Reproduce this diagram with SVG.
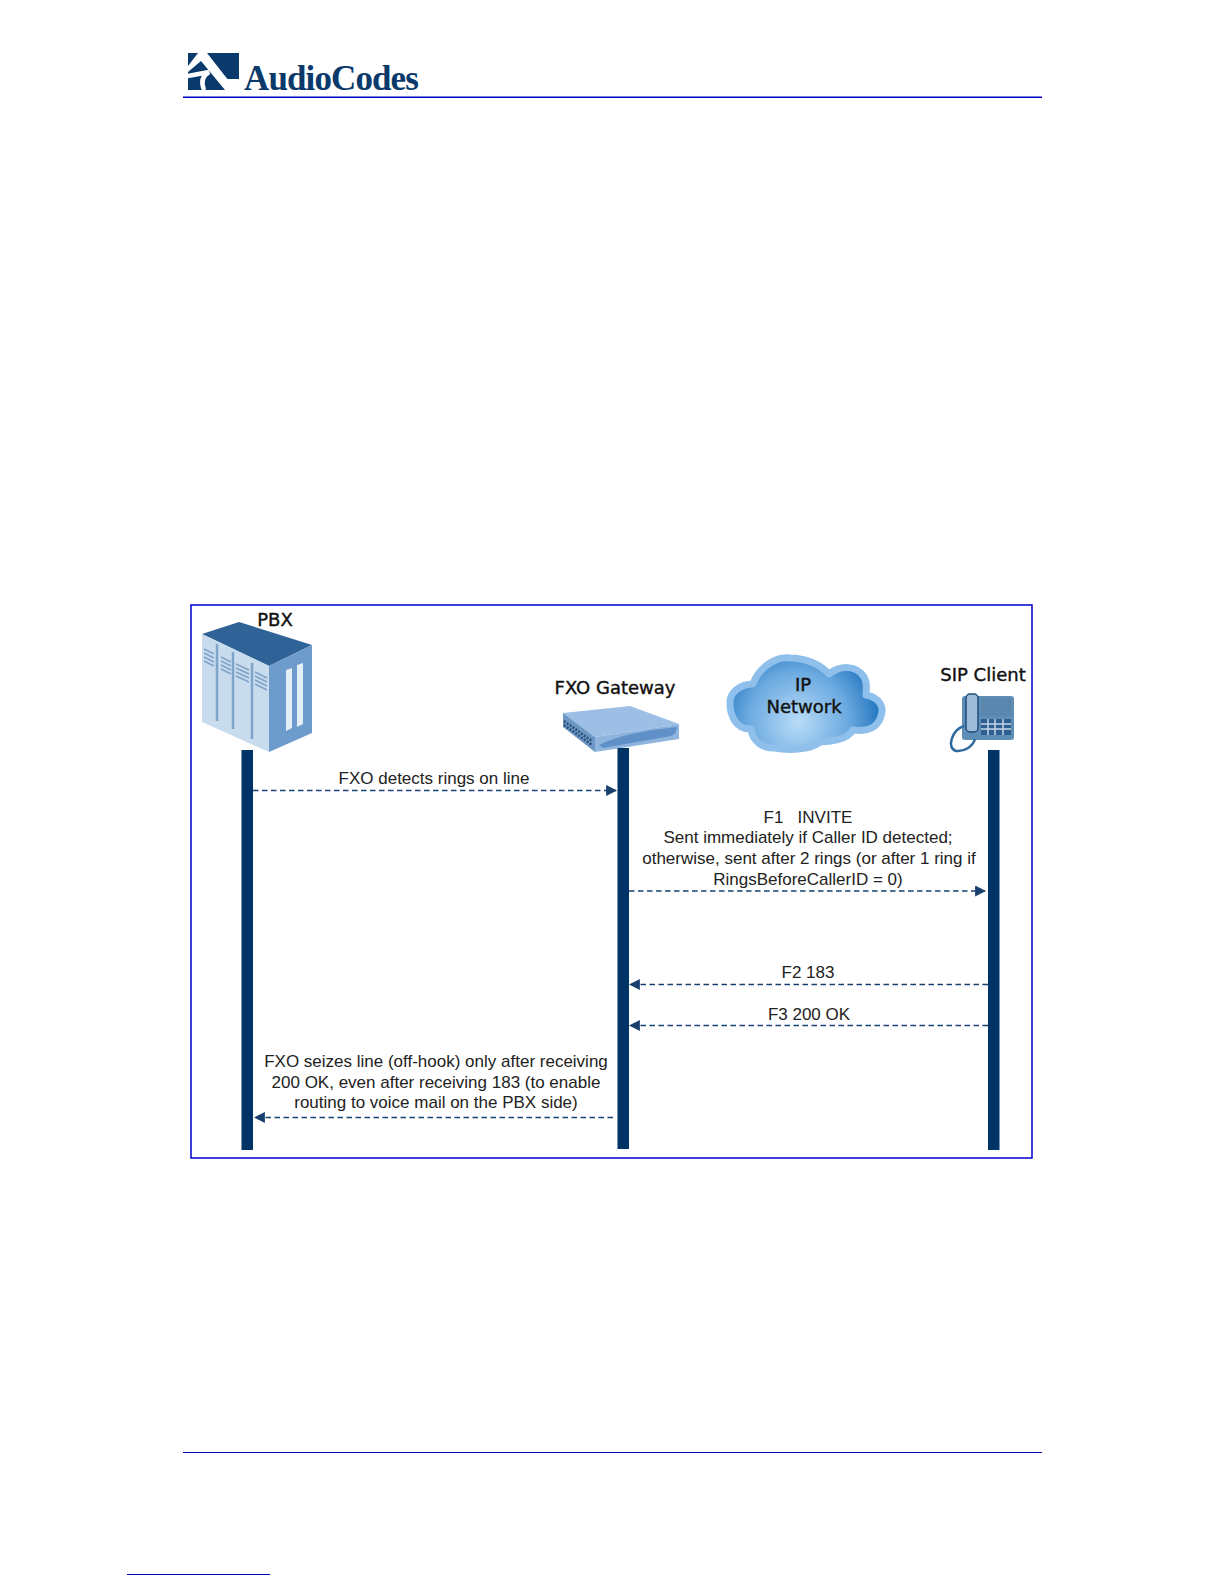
<svg xmlns="http://www.w3.org/2000/svg" width="1224" height="1584" viewBox="0 0 1224 1584">
<style>
.lab{font-family:"Liberation Sans",Arial,sans-serif;font-size:17px;fill:#222;text-anchor:middle}
.hd{font-family:"DejaVu Sans",sans-serif;font-size:18px;fill:#111;text-anchor:middle;stroke:#111;stroke-width:.4}
.life{fill:#003366}
.msg{stroke:#17406e;stroke-width:1.3;stroke-dasharray:5.5 3.5;fill:none}
</style>
<defs>
<marker id="ah" viewBox="0 0 10 10" refX="9" refY="5" markerWidth="11" markerHeight="11" markerUnits="userSpaceOnUse" orient="auto"><path d="M0 0L10 5L0 10Z" fill="#17406e"/></marker>
<radialGradient id="cg" gradientUnits="userSpaceOnUse" cx="798" cy="722" r="92"><stop offset="0" stop-color="#b9dcf7"/><stop offset=".55" stop-color="#6aa9e0"/><stop offset="1" stop-color="#0f67b5"/></radialGradient>
</defs>
<rect width="1224" height="1584" fill="#fff"/>
<g id="page">
<g id="logo">
<rect x="188" y="53" width="51" height="37" fill="#0a3a6b"/>
<path fill="#fff" d="M198 53H207L236 90H225L201 61L188 72V66Z"/>
<path fill="#fff" d="M226 79H239V90H232Z"/>
<path fill="none" stroke="#fff" stroke-width="4.500" d="M188 76L209 72Q199 78 204 90"/>
<text x="331" y="90" font-family="Liberation Serif,serif" font-size="35" font-weight="bold" letter-spacing="-0.9" fill="#0a3a6b" text-anchor="middle">AudioCodes</text>
</g>
<rect x="183" y="96.500" width="859" height="1.500" fill="#0000c0"/>
<rect x="183" y="1452" width="859" height="1" fill="#0000c0"/>
<rect x="127" y="1574" width="143" height="1" fill="#0000c0"/>
</g>
<rect x="191" y="605" width="841" height="553" fill="none" stroke="#0000cc" stroke-width="1.500"/>
<g id="connectors">
<line class="msg" x1="253" y1="790.500" x2="616" y2="790.500" marker-end="url(#ah)"/>
<line class="msg" x1="629" y1="891" x2="985" y2="891" marker-end="url(#ah)"/>
<line class="msg" x1="988" y1="984.500" x2="630" y2="984.500" marker-end="url(#ah)"/>
<line class="msg" x1="988" y1="1025.500" x2="630" y2="1025.500" marker-end="url(#ah)"/>
<line class="msg" x1="613" y1="1117.500" x2="255" y2="1117.500" marker-end="url(#ah)"/>
</g>
<g id="pbx">
<path fill="#2f6296" d="M202 634L239 622L312 645L269 666Z"/>
<path fill="#c9dcee" d="M202 634L269 666V752L202 722Z"/>
<path fill="#6d9bcb" d="M269 666L312 645V733L269 752Z"/>
<path fill="#e4eef7" d="M286 670L292 668V728L286 731ZM297 665L303 663V724L297 727Z"/>
<path stroke="#7fa3c9" stroke-width="2.500" fill="none" d="M217 644V721M233 652V729M252 663V739"/>
<path stroke="#7fa3c9" stroke-width="1.700" fill="none" d="M204 649L214 654M204 653L214 658M204 657L214 662M204 661L214 666M221 657L231 662M221 661L231 666M221 665L231 670M221 669L231 674M236 664L249 670M236 668L249 674M236 672L249 678M236 676L249 682M255 672L267 678M255 676L267 682M255 680L267 686M255 684L267 690"/>
<text class="hd" x="275" y="626">PBX</text>
<rect class="life" x="241.500" y="750" width="11.500" height="400"/>
</g>
<g id="gateway">
<path fill="#9dbfe5" d="M563 713L630 706L679 724L595 737Z"/>
<path fill="#6d97c4" d="M563 713L595 737V752L563 727Z"/>
<path fill="#8fb4de" d="M595 737L679 724V739L595 752Z"/>
<path fill="#5f90c8" d="M599 745Q625 732 677 727Q676 735 671 736L603 748Z"/>
<path stroke="#2c4f78" stroke-width="2.500" stroke-dasharray="2 1.500" fill="none" d="M564 721L592 741M564 725L592 745"/>
<text class="hd" x="615" y="694">FXO Gateway</text>
<rect class="life" x="617.500" y="748" width="11.500" height="401"/>
</g>
<g id="cloud">
<path fill="url(#cg)" stroke="#8fc0ec" stroke-width="7" stroke-linejoin="round" d="M730 704C729 692 741 684 753 684C759 666 778 656 790 658C805 658 820 664 829 674C840 665 857 665 864 677C868 683 866 690 866 695C881 698 884 708 881 716C878 727 868 732 853 730C847 740 830 742 820 742C812 749 790 751 775 748C762 749 752 740 751 729C737 730 730 716 730 704Z"/>
<text class="hd" x="803" y="691">IP</text>
<text class="hd" x="804" y="713">Network</text>
</g>
<g id="sip">
<text class="hd" x="983" y="681">SIP Client</text>
<rect x="962" y="696" width="52" height="44" rx="3" fill="#5e8db5"/>
<rect x="981" y="698" width="30" height="18" fill="#5b86ad"/>
<rect x="981" y="719" width="30" height="16" fill="#2f5f8f"/>
<path stroke="#c5d8ea" stroke-width="1.500" fill="none" d="M981 724H1011M981 729H1011M988 719V735M995 719V735M1003 719V735"/>
<rect x="966" y="694" width="12" height="38" rx="4" fill="#9cbcd9" stroke="#1f4e79" stroke-width="1.500"/>
<path fill="none" stroke="#2f6a9f" stroke-width="2.500" d="M964 726C952 730 946 748 956 751C965 752 973 746 975 739"/>
<rect class="life" x="988" y="750" width="11.500" height="400"/>
</g>
<g id="labels">
<text class="lab" x="434" y="784">FXO detects rings on line</text>
<text class="lab" x="808" y="823" xml:space="preserve">F1   INVITE</text>
<text class="lab" x="808" y="843">Sent immediately if Caller ID detected;</text>
<text class="lab" x="809" y="864">otherwise, sent after 2 rings (or after 1 ring if</text>
<text class="lab" x="808" y="885">RingsBeforeCallerID = 0)</text>
<text class="lab" x="808" y="978">F2 183</text>
<text class="lab" x="809" y="1020">F3 200 OK</text>
<text class="lab" x="436" y="1067">FXO seizes line (off-hook) only after receiving</text>
<text class="lab" x="436" y="1088">200 OK, even after receiving 183 (to enable</text>
<text class="lab" x="436" y="1108">routing to voice mail on the PBX side)</text>
</g>
</svg>
